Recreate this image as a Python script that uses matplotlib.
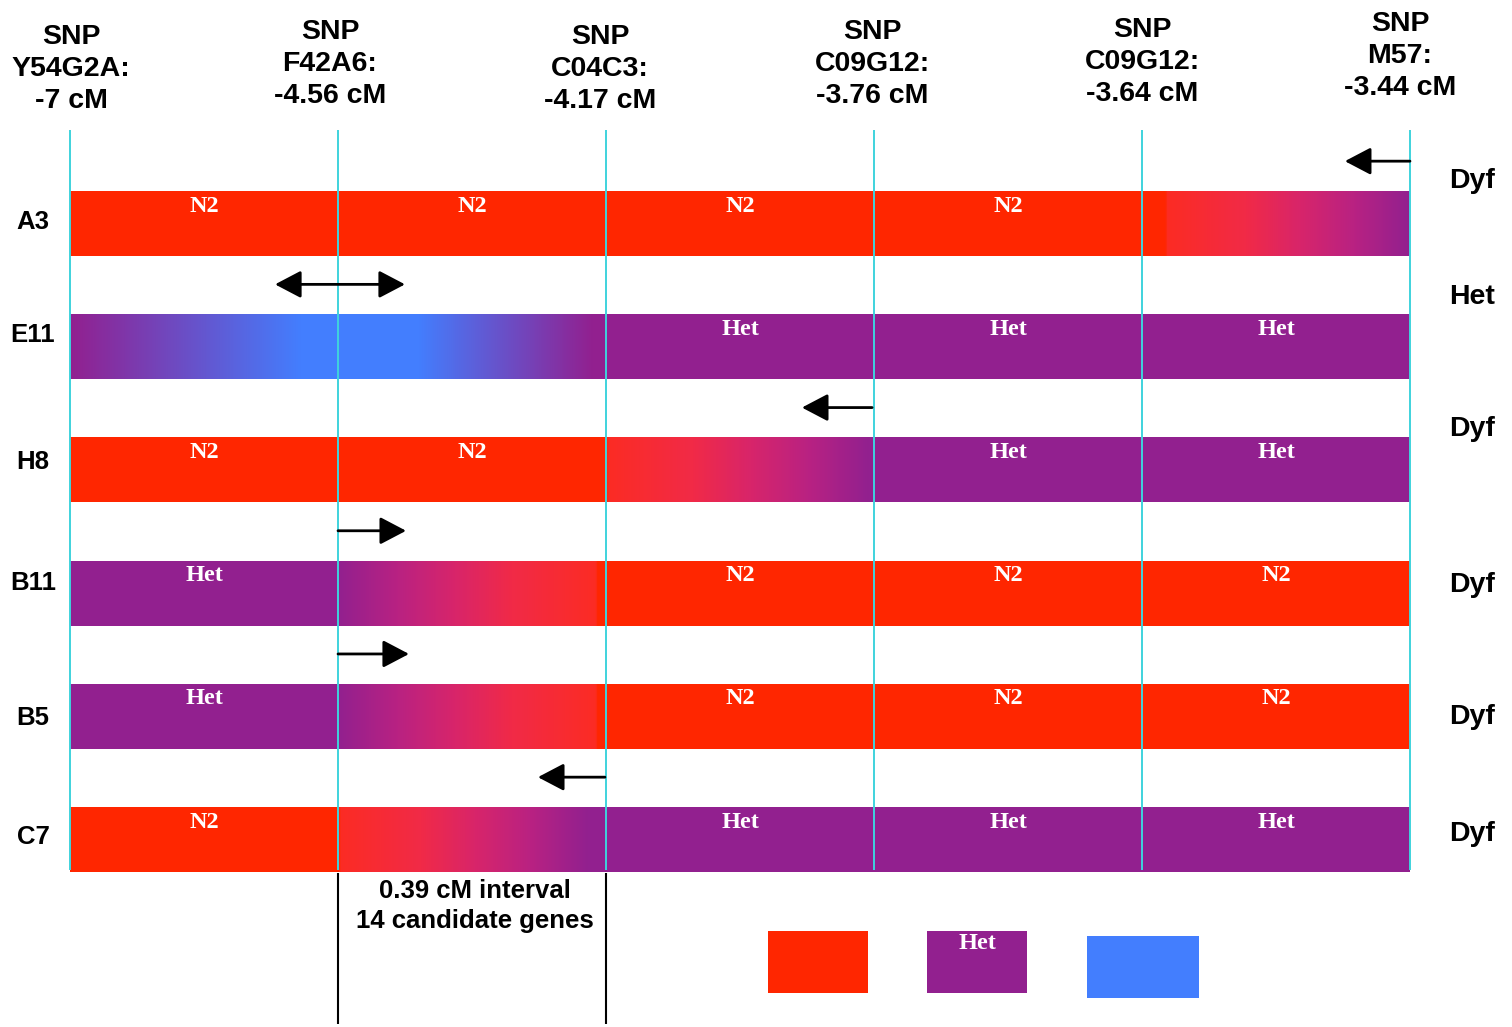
import matplotlib
matplotlib.use("Agg")
import matplotlib.pyplot as plt
from matplotlib.colors import LinearSegmentedColormap
from matplotlib.patches import Rectangle
import numpy as np

# ---------------- data ----------------
snp_names = ["Y54G2A", "F42A6", "C04C3", "C09G12", "C09G12", "M57"]
snp_cm = ["-7", "-4.56", "-4.17", "-3.76", "-3.64", "-3.44"]
lines = ["A3", "E11", "H8", "B11", "B5", "C7"]
phenotypes = ["Dyf", "Het", "Dyf", "Dyf", "Dyf", "Dyf"]
# genotype stops along each chromosome (position in SNP-interval units, genotype)
genotype_stops = [
    [(0, "N2"), (4.09, "N2"), (5, "Het")],
    [(0, "Het"), (0.86, "CB"), (1.3, "CB"), (1.95, "Het"), (5, "Het")],
    [(0, "N2"), (2, "N2"), (2.98, "Het"), (5, "Het")],
    [(0, "Het"), (1, "Het"), (1.97, "N2"), (5, "N2")],
    [(0, "Het"), (1, "Het"), (1.97, "N2"), (5, "N2")],
    [(0, "N2"), (1, "N2"), (1.93, "Het"), (5, "Het")],
]
segment_labels = [
    ["N2", "N2", "N2", "N2", None],
    [None, None, "Het", "Het", "Het"],
    ["N2", "N2", None, "Het", "Het"],
    ["Het", None, "N2", "N2", "N2"],
    ["Het", None, "N2", "N2", "N2"],
    ["N2", None, "Het", "Het", "Het"],
]
# recombination arrows: (row, tail, head, double-headed)
arrows = [
    (0, 5.0, 4.757, False),
    (1, 0.765, 1.25, True),
    (2, 2.993, 2.731, False),
    (3, 1.0, 1.254, False),
    (4, 1.0, 1.265, False),
    (5, 1.996, 1.746, False),
]
interval_text = "0.39 cM interval\n14 candidate genes"
legend_items = ["N2", "Het", "CB"]
legend_labels = [None, "Het", None]

# ---------------- style ----------------
colors = {"N2": "#FF2600", "Het": "#92208F", "CB": "#437EFE"}
# shape of the red -> purple blend as drawn in the original (t, colour)
n2_het_ramp = [(0.0, "#FF2600"), (0.01, "#FC2C24"), (0.33, "#F12A47"),
               (0.55, "#D8256A"), (0.77, "#B92282"), (1.0, "#92208F")]

W, H = 1512, 1027
X0, DX = 70, 268        # pixel of SNP 0, spacing
Y0, DY = 224, 123.2     # pixel of row 0, spacing
bar_h = 0.52

def px_x(p):
    return (p - X0) / DX

def px_y(p):
    return (p - Y0) / DY

def build_stops(stops, total):
    out = []
    for k, (p, g) in enumerate(stops):
        if k > 0:
            p0, g0 = stops[k - 1]
            pair = (g0, g)
            if pair == ("N2", "Het"):
                ramp = n2_het_ramp
            elif pair == ("Het", "N2"):
                ramp = [(1 - t, c) for t, c in reversed(n2_het_ramp)]
            else:
                ramp = None
            if ramp is not None:
                for t, c in ramp[1:-1]:
                    out.append(((p0 + (p - p0) * t) / total, c))
        out.append((p / total, colors[g]))
    return out

fig = plt.figure(figsize=(W / 100, H / 100), dpi=100)
ax = fig.add_axes([0, 0, 1, 1])
ax.set_xlim(px_x(0), px_x(W))
ax.set_ylim(px_y(H), px_y(0))
ax.axis("off")

sans = "Liberation Sans"
serif = "Liberation Serif"

# header labels
header_x = [71, 330, 600, 872, 1142, 1400]
header_y = [69, 64, 69, 64, 62, 56]
for i, (nm, cm) in enumerate(zip(snp_names, snp_cm)):
    ax.text(px_x(header_x[i]), px_y(header_y[i]), f"SNP\n{nm}:\n{cm} cM",
            ha="center", va="center", fontsize=20.5, fontweight="bold",
            family=sans, linespacing=1.3)

# bars
n = 2000
grad = np.linspace(0, 1, n).reshape(1, -1)
row_label_y = [222, 335, 462, 583, 718, 837]
for r, stops in enumerate(genotype_stops):
    total = stops[-1][0]
    cmap = LinearSegmentedColormap.from_list(f"row{r}", build_stops(stops, total),
                                             N=2048)
    ax.imshow(grad, cmap=cmap, aspect="auto", interpolation="nearest",
              extent=(0, total, r + bar_h / 2, r - bar_h / 2), zorder=1)
    for j, lab in enumerate(segment_labels[r]):
        if lab:
            ax.text(j + 0.5, r - bar_h / 2 + 0.115, lab, ha="center", va="center",
                    color="white", fontsize=17.5, fontweight="bold", family=serif,
                    zorder=5)
    ax.text(px_x(33), px_y(row_label_y[r]), lines[r], ha="center", va="center",
            fontsize=18.5, fontweight="bold", family=sans)

# phenotype labels
pheno_y = [181, 297, 429, 585, 717, 834]
for r, ph in enumerate(phenotypes):
    ax.text(px_x(1472), px_y(pheno_y[r]), ph, ha="center", va="center",
            fontsize=20.5, fontweight="bold", family=sans)

# SNP guide lines
ax.vlines(range(len(snp_names)), px_y(130), px_y(870), color="#3FD3DD",
          lw=1.4, zorder=3)

# arrows
for r, tail, head, both in arrows:
    y = r - 0.51
    style = "<|-|>" if both else "-|>"
    ax.annotate("", xy=(head, y), xytext=(tail, y),
                arrowprops=dict(arrowstyle=f"{style},head_length=0.8,head_width=0.42",
                                color="black", lw=2, shrinkA=0, shrinkB=0,
                                mutation_scale=20), zorder=4)

# interval brackets
ax.vlines([1, 2], px_y(873), px_y(1024), color="black", lw=1.5)
ax.text(px_x(475), px_y(906), interval_text, ha="center", va="center",
        fontsize=18.5, fontweight="bold", family=sans, linespacing=1.33)

# legend boxes
leg_boxes = [(768, 931, 100, 62), (927, 931, 100, 62), (1087, 936, 112, 62)]
for (bx, by, bw, bh), g, lab in zip(leg_boxes, legend_items, legend_labels):
    ax.add_patch(Rectangle((px_x(bx), px_y(by)), bw / DX, bh / DY,
                           facecolor=colors[g], edgecolor="none"))
    if lab:
        ax.text(px_x(bx + bw / 2), px_y(by + 12), lab, ha="center", va="center",
                color="white", fontsize=17.5, fontweight="bold", family=serif)

fig.savefig("out.png", dpi=100)
